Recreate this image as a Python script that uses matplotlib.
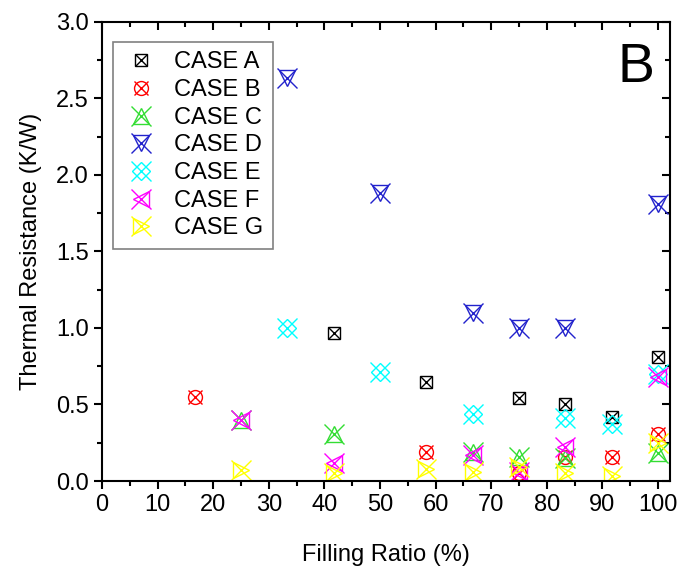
import numpy as np
import matplotlib
matplotlib.use("Agg")
import matplotlib.pyplot as plt
from matplotlib.legend_handler import HandlerTuple
from matplotlib.ticker import MultipleLocator

plt.rcParams["font.family"] = ["Liberation Sans", "DejaVu Sans"]

# filling ratio (%) and thermal resistance (K/W) per case
x_a = [41.7, 58.3, 75.0, 83.3, 91.7, 100.0]
y_a = [0.97, 0.65, 0.54, 0.50, 0.42, 0.81]

x_b = [16.7, 58.3, 75.0, 83.3, 91.7, 100.0]
y_b = [0.55, 0.19, 0.05, 0.16, 0.16, 0.31]

x_c = [25.0, 41.7, 66.7, 75.0, 83.3, 100.0]
y_c = [0.40, 0.31, 0.19, 0.16, 0.15, 0.18]

x_d = [33.3, 50.0, 66.7, 75.0, 83.3, 100.0]
y_d = [2.63, 1.88, 1.10, 1.00, 1.00, 1.81]

x_e = [33.3, 50.0, 66.7, 83.3, 91.7, 100.0]
y_e = [1.00, 0.71, 0.44, 0.41, 0.37, 0.70]

x_f = [25.0, 41.7, 66.7, 75.0, 83.3, 100.0]
y_f = [0.40, 0.12, 0.17, 0.06, 0.22, 0.68]

x_g = [25.0, 41.7, 58.3, 66.7, 75.0, 83.3, 91.7, 100.0]
y_g = [0.07, 0.05, 0.08, 0.06, 0.09, 0.05, 0.03, 0.25]

cases = ["CASE A", "CASE B", "CASE C", "CASE D", "CASE E", "CASE F", "CASE G"]

series = [
    (x_a, y_a, "black", "s", 8, 8),
    (x_b, y_b, "red", "o", 10, 10),
    (x_c, y_c, "#33dd33", "^", 12, 15),
    (x_d, y_d, "#2222cc", "v", 12, 15),
    (x_e, y_e, "cyan", "D", 9, 15),
    (x_f, y_f, "magenta", "<", 12, 15),
    (x_g, y_g, "yellow", ">", 12, 15),
]

fig = plt.figure(figsize=(6.84, 5.74), dpi=100)
ax = fig.add_axes([0.149, 0.162, 0.831, 0.800])

handles = []
for xs, ys, col, mk, ms, xs_size in series:
    h1, = ax.plot(xs, ys, ls="none", marker=mk, ms=ms, mfc="none",
                  mec=col, mew=1.0)
    h2, = ax.plot(xs, ys, ls="none", marker="x", ms=xs_size,
                  mec=col, mew=1.0)
    handles.append((h1, h2))

ax.set_xlim(0, 102.2)
ax.set_ylim(0, 3.0)
ax.xaxis.set_major_locator(MultipleLocator(10))
ax.xaxis.set_minor_locator(MultipleLocator(5))
ax.yaxis.set_major_locator(MultipleLocator(0.5))
ax.yaxis.set_minor_locator(MultipleLocator(0.25))
ax.yaxis.set_major_formatter(matplotlib.ticker.FormatStrFormatter("%.1f"))

for s in ax.spines.values():
    s.set_linewidth(1.5)

ax.tick_params(which="both", direction="out", labelsize=17, width=1.5,
               bottom=True, left=True)
ax.tick_params(which="major", length=6)
ax.tick_params(which="minor", length=3.5)
ax.tick_params(which="both", top=True, right=True, labeltop=False,
               labelright=False)

# top/right ticks point inward, bottom/left outward
for t in ax.xaxis.get_major_ticks() + ax.xaxis.get_minor_ticks():
    t.tick2line.set_marker(matplotlib.markers.TICKDOWN)
for t in ax.yaxis.get_major_ticks() + ax.yaxis.get_minor_ticks():
    t.tick2line.set_marker(matplotlib.markers.TICKLEFT)

ax.set_xlabel("Filling Ratio (%)", fontsize=17, labelpad=20)
ax.set_ylabel("Thermal Resistance (K/W)", fontsize=17, labelpad=10)

ax.text(0.94, 0.90, "B", transform=ax.transAxes, fontsize=40,
        ha="center", va="center")

leg = ax.legend(handles, cases, handler_map={tuple: HandlerTuple(ndivide=1)},
                loc="upper left", bbox_to_anchor=(0.019, 0.956),
                borderaxespad=0, fontsize=17, fancybox=False,
                edgecolor="gray", framealpha=1, labelspacing=0.24,
                handlelength=1.6, handletextpad=0.6, borderpad=0.4)
leg.get_frame().set_linewidth(1.2)

fig.savefig("out.png", dpi=100)
